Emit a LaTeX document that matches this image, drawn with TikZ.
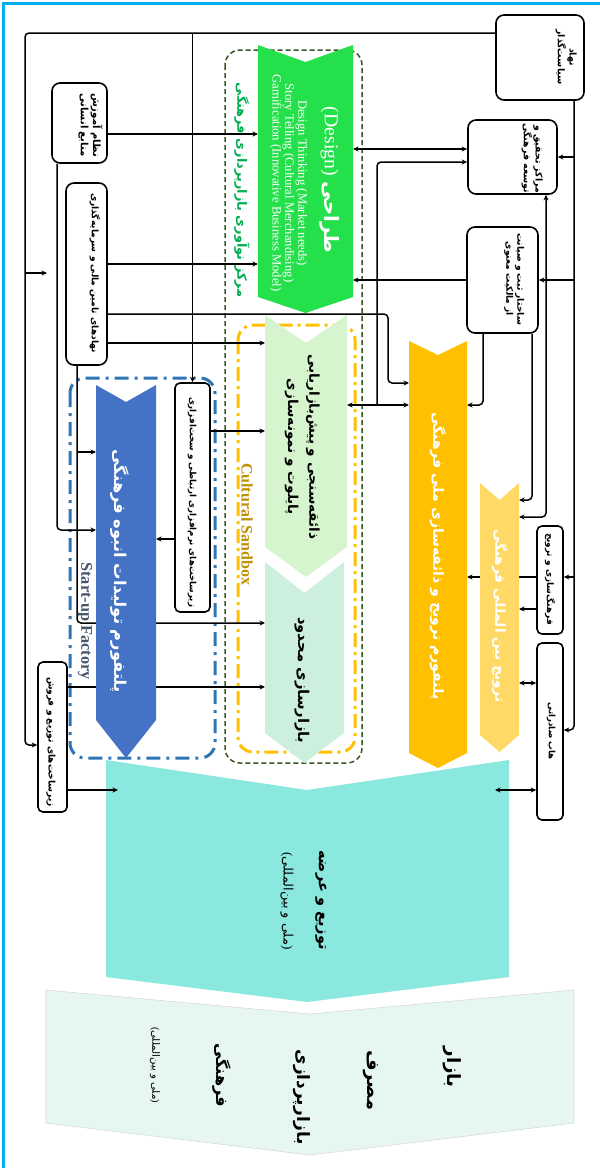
\documentclass[tikz,border=0pt]{standalone}
\usepackage{fontspec}
\usepackage{graphicx}
\setmainfont{Liberation Serif}
\newfontfamily\fa[Script=Arabic]{DejaVu Sans}
\TeXXeTstate=1
\usetikzlibrary{arrows.meta}
\newcommand\RL[1]{\beginR#1\endR}
\newcommand\FitW[2]{\resizebox{#1pt}{!}{#2}}
\newcommand\LinesC[1]{\begin{tabular}{@{}c@{}}#1\end{tabular}}
\newcommand\LinesR[1]{\begin{tabular}{@{}r@{}}#1\end{tabular}}
\newcommand\Chev[8]{\fill[#1] (#2,#5) -- (#3,#6) -- (#4,#5) -- (#4,#7) -- (#3,#8) -- (#2,#7) -- cycle;}
\definecolor{cframe}{RGB}{0,176,240}
\definecolor{cdesign}{RGB}{36,224,74}
\definecolor{clabel}{RGB}{0,176,80}
\definecolor{clgreen}{RGB}{214,245,206}
\definecolor{clteal}{RGB}{204,239,222}
\definecolor{cblue}{RGB}{68,114,196}
\definecolor{corange}{RGB}{255,192,0}
\definecolor{clyel}{RGB}{255,217,102}
\definecolor{cteal}{RGB}{138,232,222}
\definecolor{cmint}{RGB}{230,247,240}
\definecolor{cgreenbox}{RGB}{56,87,35}
\definecolor{cbluebox}{RGB}{46,117,182}
\definecolor{cstart}{RGB}{68,84,106}
\definecolor{csand}{RGB}{191,144,0}
\begin{document}
\begin{tikzpicture}[x=1pt,y=-1pt,
  conn/.style={line width=1.5pt, rounded corners=4pt},
  >={Stealth[length=5.5pt,width=5pt]},
  box/.style={draw, line width=1.6pt, rounded corners=8pt, fill=white, inner sep=0pt},
  sbox/.style={draw, line width=1.6pt, rounded corners=5pt, fill=white, inner sep=0pt},
  ph/.style={inner sep=0pt, outer sep=0pt},
  rt/.style={rotate=-90, inner sep=0pt},
  fab/.style={rt, font=\fa\bfseries}]
\useasboundingbox (0,0) rectangle (600,1168);
% frame
\draw[cframe, line width=3pt] (3.5,1168) -- (3.5,3.5) -- (600,3.5);

% containers
\draw[cgreenbox, line width=1.5pt, dash pattern=on 5pt off 3pt, rounded corners=15pt] (225,50) rectangle (362,763);
\draw[corange, line width=3pt, dash pattern=on 14pt off 5pt on 3pt off 5pt, rounded corners=15pt] (238,325) rectangle (355,752);
\draw[cbluebox, line width=3pt, dash pattern=on 14pt off 6pt on 3pt off 6pt, rounded corners=15pt] (70,378) rectangle (215,758);

% placeholder nodes for chevrons
\node[ph, minimum width=95pt, minimum height=268pt] (design) at (305.5,179) {};
\node[ph, minimum width=82pt, minimum height=262pt] (lgreen) at (306,446) {};
\node[ph, minimum width=79pt, minimum height=201pt] (lteal) at (304.5,662.5) {};
\node[ph, minimum width=60pt, minimum height=373pt] (blue) at (126,571.5) {};
\node[ph, minimum width=58pt, minimum height=427pt] (orange) at (438,554.5) {};
\node[ph, minimum width=39pt, minimum height=269pt] (lyel) at (499.5,617.5) {};
\node[ph, minimum width=403pt, minimum height=242pt] (teal) at (307.5,881) {};

% boxes
\node[box, minimum width=88pt, minimum height=85pt] (policy) at (540,57.5) {};
\node[box, minimum width=89pt, minimum height=74pt] (rd) at (512.5,157) {};
\node[box, minimum width=71pt, minimum height=106pt] (ipr) at (502.5,280) {};
\node[sbox, minimum width=26pt, minimum height=108pt] (cult) at (550,580) {};
\node[sbox, minimum width=26pt, minimum height=177pt] (hub) at (550,731.5) {};
\node[box, minimum width=55pt, minimum height=80pt] (edu) at (79.5,123) {};
\node[box, minimum width=41pt, minimum height=182pt] (fin) at (86.5,274) {};
\node[sbox, minimum width=35pt, minimum height=229pt] (soft) at (192.5,497.5) {};
\node[sbox, minimum width=29pt, minimum height=150pt] (dist) at (52.5,737) {};

% connectors drawn beneath chevrons
\draw[conn,->] (cult.west |- 0,577) -- (orange.east |- 0,577);
\draw[conn,->] (fin.south -| 77,0) -- (77,623) -- (lteal.west |- 0,623);
\draw[conn,->] (dist.east |- 0,687) -- (lteal.west |- 0,687);

% chevrons
\Chev{cdesign}{258}{305.5}{353}{45}{62}{297}{313}
\Chev{clgreen}{265}{306}{347}{315}{343}{547}{577}
\Chev{clteal}{265}{304.5}{344}{562}{593}{733}{763}
\Chev{cblue}{96}{126}{156}{385}{402}{720}{758}
\Chev{corange}{409}{438}{467}{341}{355}{753}{768}
\Chev{clyel}{480}{499.5}{519}{483}{500}{735}{752}
\Chev{cteal}{106}{307}{509}{760}{790}{977}{1002}
\fill[cmint, draw=black!15, line width=0.6pt] (46,990) -- (310,1014) -- (574,990) -- (574,1123) -- (310,1155) -- (46,1123) -- cycle;

% texts in boxes
\node[fab] (tpolicy) at (566,57) {\FitW{55}{\LinesC{\RL{نهاد}\\\RL{سیاست‌گذار}}}};
\node[fab] (trd) at (532,158) {\FitW{70}{\LinesR{\RL{مراکز تحقیق و}\\\RL{توسعه فرهنگی}}}};
\node[fab] (tipr) at (514,279) {\FitW{92}{\LinesC{\RL{ساختار ثبت و صیانت}\\\RL{از مالکیت معنوی}}}};
\node[fab] (tcult) at (550,579) {\FitW{92}{\RL{فرهنگ‌سازی و ترویج}}};
\node[fab] (thub) at (551,731) {\FitW{57}{\RL{هاب صادراتی}}};
\node[fab] (tedu) at (90,125) {\FitW{64}{\LinesC{\RL{نظام آموزش}\\\RL{منابع انسانی}}}};
\node[fab] (tfin) at (95,273) {\FitW{160}{\RL{نهادهای تامین مالی و سرمایه‌گذاری}}};
\node[fab] (tsoft) at (192,502) {\FitW{210}{\RL{زیرساخت‌های نرم‌افزاری ارتباطی و سخت‌افزاری}}};
\node[fab] (tdist) at (51,742) {\FitW{130}{\RL{زیرساخت‌های توزیع و فروش}}};

% texts in chevrons and containers
\node[fab, text=clabel] (tlabel) at (242,190) {\FitW{214}{\RL{مرکز نوآوری بازارپردازی فرهنگی}}};
\node[rt, text=white] (tdesign) at (330,180) {\FitW{146}{(Design) {\fa\bfseries\RL{طراحی}}}};
\node[rt, text=white] (tdesign2) at (288,183) {\FitW{217}{\def\arraystretch{0.85}\LinesC{Design Thinking (Market needs)\\Story Telling (Cultural Merchandising)\\Gamification (Innovative Business Model)}}};
\node[fab] (tlgreen) at (303,447) {\FitW{185}{\def\arraystretch{1.3}\LinesC{\RL{ذائقه‌سنجی و پیش‌بازاریابی}\\\RL{پایلوت و نمونه‌سازی}}}};
\node[fab] (tlteal) at (302,680) {\FitW{126}{\RL{بازارسازی محدود}}};
\node[fab, text=white] (tblue) at (120,571) {\FitW{243}{\RL{پلتفورم تولیدات انبوه فرهنگی}}};
\node[fab, text=white] (torange) at (438,556) {\FitW{287}{\RL{پلتفورم ترویج و ذائقه‌سازی ملی فرهنگی}}};
\node[fab, text=white] (tlyel) at (500,616) {\FitW{173}{\RL{ترویج بین المللی فرهنگی}}};
\node[fab] (tteal1) at (321,900) {\FitW{100}{\RL{توزیع و عرضه}}};
\node[rt, font=\fa] (tteal2) at (287,901) {\FitW{97}{{\rmfamily(}\RL{ملی و بین‌المللی}{\rmfamily)}}};
\node[fab] (tm1) at (452,1067) {\FitW{41}{\RL{بازار}}};
\node[fab] (tm2) at (371,1080) {\FitW{60}{\RL{مصرف}}};
\node[fab] (tm3) at (302,1097) {\FitW{95}{\RL{بازارپردازی}}};
\node[fab] (tm4) at (222,1075) {\FitW{64}{\RL{فرهنگی}}};
\node[rt, font=\fa] (tm5) at (155,1065) {\FitW{76}{{\rmfamily(}\RL{ملی و بین‌المللی}{\rmfamily)}}};
\node[rt, text=cstart] (tstart) at (85,621) {\FitW{117}{\bfseries Start-up Factory}};
\node[rt, text=csand] (tsand) at (247,524) {\FitW{122}{\bfseries Cultural Sandbox}};

% connectors
\coordinate (jstub) at (25,273);
\coordinate (stub) at (47,273);
\coordinate (jsoft) at (192.5,33);
\draw[conn,->] (policy.west |- 0,33) -- (25,33) -- (25,745) -- (dist.west |- 0,745);
\draw[conn,->] (jstub) -- (stub);
\draw[conn,->] (jsoft) -- (soft.north);
\draw[conn,->] (policy.south -| 574,0) -- (574,730) -- (hub.east |- 0,730);
\coordinate (jr1) at (574,157);
\coordinate (jr2) at (574,280);
\coordinate (jr3) at (574,577);
\draw[conn,->] (jr1) -- (rd.east |- 0,157);
\draw[conn,->] (jr2) -- (ipr.east |- 0,280);
\draw[conn,->] (jr3) -- (cult.east |- 0,577);
\draw[conn,<->] (design.east |- 0,149) -- (rd.west |- 0,149);
\draw[conn,<->] (lgreen.east |- 0,405) -- (orange.west |- 0,405);
\coordinate (jm) at (377,405);
\draw[conn,->] (jm) -- (377,162) -- (rd.west |- 0,162);
\draw[conn,->] (ipr.west |- 0,280) -- (design.east |- 0,280);
\draw[conn,->] (ipr.south -| 483,0) -- (483,405) -- (orange.east |- 0,405);
\draw[conn,->] (ipr.south -| 532,0) -- (532,500) -- (lyel.east |- 0,500);
\draw[conn,<->] (rd.south -| 546,0) -- (546,517) -- (lyel.east |- 0,517);
\draw[conn,->] (cult.west |- 0,609) -- (lyel.east |- 0,609);
\draw[conn,<->] (hub.west |- 0,683) -- (lyel.east |- 0,683);
\draw[conn,<->] (hub.west |- 0,790) -- ([xshift=-14pt]teal.east |- 0,790);
\draw[conn,->] (edu.east |- 0,134) -- (design.west |- 0,134);
\draw[conn,->] (edu.south -| 57,0) -- (57,530) -- (blue.west |- 0,530);
\draw[conn,->] (fin.east |- 0,264) -- (design.west |- 0,264);
\draw[conn,->] (fin.east |- 0,314) -- (388,314) -- (388,383) -- (orange.west |- 0,383);
\draw[conn,->] (fin.east |- 0,343) -- (lgreen.west |- 0,343);
\coordinate (jf) at (77,452);
\draw[conn,->] (jf) -- (blue.west |- 0,452);
\draw[conn,->] (soft.west |- 0,539) -- (blue.east |- 0,539);
\draw[conn,->] (soft.east |- 0,431) -- (lgreen.west |- 0,431);
\draw[conn,->] (dist.east |- 0,790) -- ([xshift=12pt]teal.west |- 0,790);
\end{tikzpicture}
\end{document}
